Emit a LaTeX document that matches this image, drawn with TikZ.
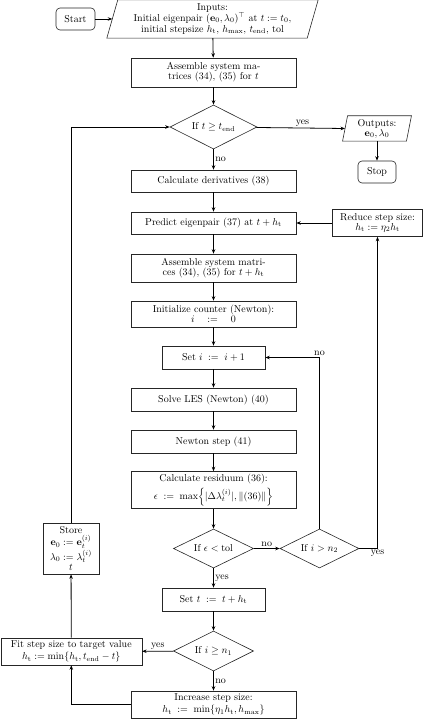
\documentclass[tikz,border=0pt]{standalone}
\usepackage{amsmath,amssymb}
\usetikzlibrary{shapes.geometric,arrows.meta,calc}
\begin{document}
\begin{tikzpicture}[x=1pt,y=-1pt,
  box/.style={draw=black!85,line width=0.6pt,rectangle,align=center,inner sep=1.5pt,fill=white},
  term/.style={box,rounded corners=4pt},
  txt/.style={rectangle,align=center,inner sep=0pt},
  dec/.style={draw=black!85,line width=0.6pt,diamond,aspect=2,inner sep=0pt,align=center},
  arr/.style={-{Stealth[length=4.5pt,width=3.5pt]},line width=0.8pt},
  lab/.style={inner sep=1.5pt,font=\normalsize}]
\useasboundingbox (0,0) rectangle (423,719);
% nodes
\node[term,minimum width=39pt,minimum height=22pt] (start) at (75.5,19) {Start};
\node[txt,minimum width=200pt,minimum height=38pt] (inp) at (212.5,19) {Inputs:\\[-1pt] Initial eigenpair $(\mathbf{e}_0,\lambda_0)^{\top}$ at $t:=t_0$,\\[-1pt] initial stepsize $h_\mathrm{t}$, $h_\mathrm{max}$, $t_\mathrm{end}$, tol};
\draw[draw=black!85,line width=0.6pt] ($(inp.north west)+(5.5,0)$) -- ($(inp.north east)+(5.5,0)$) -- ($(inp.south east)+(-5.5,0)$) -- ($(inp.south west)+(-5.5,0)$) -- cycle;
\node[box,minimum width=165pt,minimum height=29pt] (asm1) at (213.5,72.5) {Assemble system ma-\\[-2pt] trices (34), (35) for $t$};
\node[dec,minimum width=87pt,minimum height=44pt] (d1) at (213.5,127) {If $t \geq t_\mathrm{end}$};
\node[txt,minimum width=63.5pt,minimum height=25pt] (out) at (377,128.5) {Outputs:\\[-2pt] $\mathbf{e}_0,\lambda_0$};
\draw[draw=black!85,line width=0.6pt] ($(out.north west)+(2.5,0)$) -- ($(out.north east)+(2.5,0)$) -- ($(out.south east)+(-2.5,0)$) -- ($(out.south west)+(-2.5,0)$) -- cycle;
\node[term,minimum width=38pt,minimum height=22pt] (stop) at (377,172) {Stop};
\node[box,minimum width=165pt,minimum height=22pt] (der) at (213.5,181) {Calculate derivatives (38)};
\node[box,minimum width=165pt,minimum height=22pt] (pred) at (213.5,223) {Predict eigenpair (37) at $t+h_\mathrm{t}$};
\node[box,minimum width=90pt,minimum height=27pt] (red) at (377.5,223) {Reduce step size:\\[-2pt] $h_\mathrm{t} := \eta_2 h_\mathrm{t}$};
\node[box,minimum width=165pt,minimum height=28pt] (asm2) at (213.5,268) {Assemble system matri-\\[-2pt] ces (34), (35) for $t+h_\mathrm{t}$};
\node[box,minimum width=165pt,minimum height=26pt] (init) at (213.5,314) {Initialize counter (Newton):\\[-2pt] $i\quad:=\quad 0$};
\node[box,minimum width=103pt,minimum height=23pt] (seti) at (213.5,357.5) {Set $i\;:=\;i+1$};
\node[box,minimum width=165pt,minimum height=23pt] (les) at (213.5,399.5) {Solve LES (Newton) (40)};
\node[box,minimum width=165pt,minimum height=23pt] (nst) at (213.5,441.5) {Newton step (41)};
\node[box,minimum width=165pt,minimum height=37pt,inner ysep=0pt] (res) at (213.5,490) {Calculate residuum (36):\\[3pt] $\epsilon\;:=\;\max\Bigl\{|\Delta\lambda_t^{(i)}|,\|(36)\|\Bigr\}$};
\node[dec,minimum width=80pt,minimum height=39pt] (d2) at (213.5,548.5) {If $\epsilon<\mathrm{tol}$};
\node[dec,minimum width=79pt,minimum height=39pt] (d3) at (319.5,548.5) {If $i>n_2$};
\node[box,minimum width=56pt,minimum height=51pt,inner sep=0pt] (store) at (71,548.5) {Store\\ $\mathbf{e}_0:=\mathbf{e}_t^{(i)}$\\[1pt] $\lambda_0:=\lambda_t^{(i)}$\\[-2pt] $t$};
\node[box,minimum width=103pt,minimum height=23pt] (sett) at (213.5,599.5) {Set $t\;:=\;t+h_\mathrm{t}$};
\node[dec,minimum width=80pt,minimum height=40pt] (d4) at (213.5,651) {If $i\geq n_1$};
\node[box,minimum width=141pt,minimum height=27pt,inner ysep=0.5pt] (fit) at (71.3,651.5) {Fit step size to target value\\[0pt] $h_\mathrm{t}:=\min\{h_\mathrm{t},t_\mathrm{end}-t\}$};
\node[box,minimum width=165pt,minimum height=27pt,inner ysep=0.5pt] (inc) at (213.5,704.5) {Increase step size:\\[0pt] $h_\mathrm{t}\;:=\;\min\{\eta_1h_\mathrm{t},h_\mathrm{max}\}$};
% connectors
\draw[arr] (start) -- (inp.west);
\draw[arr] (inp) -- (asm1);
\draw[arr] (asm1) -- (d1);
\draw[arr] (d1) -- node[lab,above,pos=0.52]{yes} (out.west);
\draw[arr] (out) -- (stop);
\draw[arr] (d1) -- node[lab,right]{no} (der);
\draw[arr] (der) -- (pred);
\draw[arr] (red) -- (pred);
\draw[arr] (pred) -- (asm2);
\draw[arr] (asm2) -- (init);
\draw[arr] (init) -- (seti);
\draw[arr] (seti) -- (les);
\draw[arr] (les) -- (nst);
\draw[arr] (nst) -- (res);
\draw[arr] (res) -- (d2);
\draw[arr] (d2) -- node[lab,above]{no} (d3);
\draw[arr] (d3.north) |- node[lab,above,pos=0.5]{no} (seti.east);
\draw[arr] (d3.east) -| node[lab,below,pos=0.5]{yes} (red.south);
\draw[arr] (d2) -- node[lab,right]{yes} (sett);
\draw[arr] (sett) -- (d4);
\draw[arr] (d4) -- node[lab,above]{yes} (fit);
\draw[arr] (d4) -- node[lab,right]{no} (inc);
\draw[arr] (inc.west) -| (fit.south);
\draw[arr] (fit) -- (store);
\draw[arr] (store.north) |- (d1.west);
\end{tikzpicture}
\end{document}
